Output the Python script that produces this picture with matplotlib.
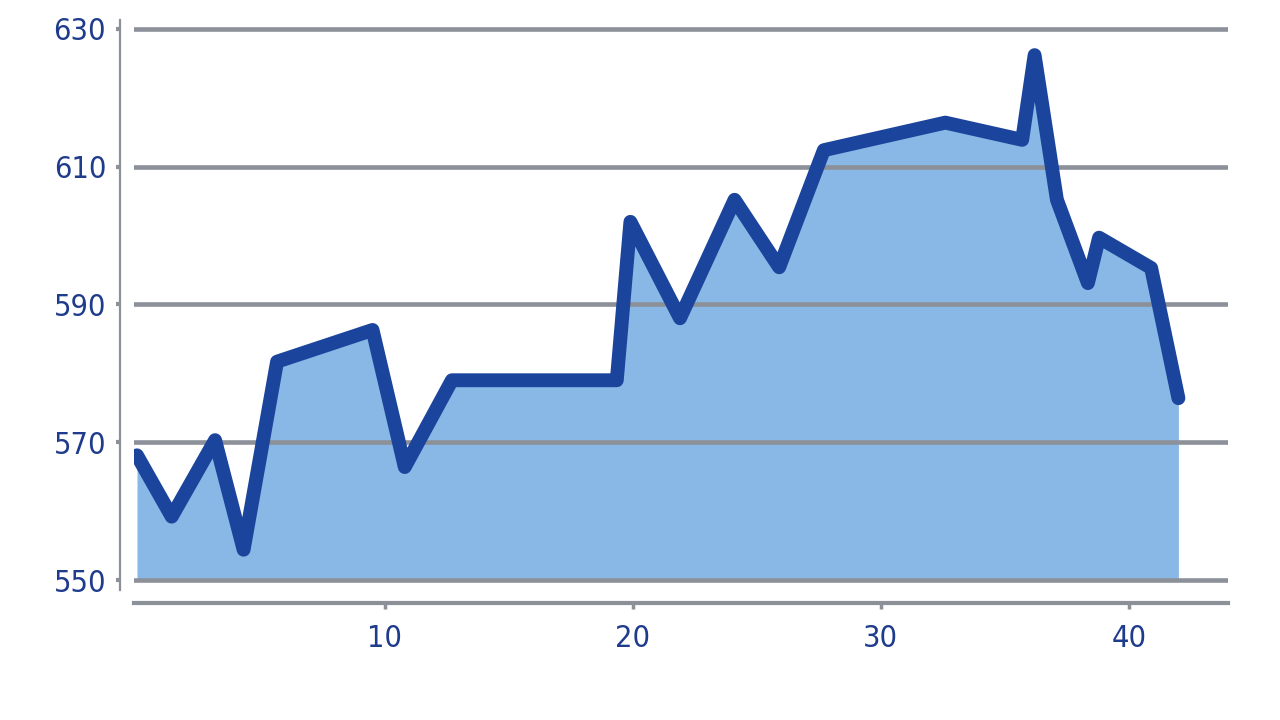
import matplotlib
matplotlib.use("Agg")
import matplotlib.pyplot as plt

# values
x_vals = [0, 1.4, 3.15, 4.3, 5.65, 9.5, 10.8, 12.7, 19.35, 19.9, 21.9,
          24.1, 25.9, 27.7, 32.6, 35.7, 36.2, 37.1, 38.35, 38.8, 40.9, 42.0]
y_vals = [568.1, 559.2, 570.3, 554.4, 581.7, 586.3, 566.4, 579.0, 579.0, 602.0, 588.0,
          605.2, 595.4, 612.4, 616.4, 613.9, 626.2, 605.2, 593.1, 599.7, 595.3, 576.4]
y_ticks = [550, 570, 590, 610, 630]
x_ticks = [10, 20, 30, 40]
baseline = 550

line_color = "#1b449c"
fill_color = "#8ab8e6"
grid_color = "#8c9099"
text_color = "#1f3c8c"

fig = plt.figure(figsize=(12.8, 7.2), dpi=100)
ax = fig.add_axes([134 / 1280, 1 - 590 / 720, (1228 - 134) / 1280, 570 / 720])

# area first, grid lines over it, the thick line on top
ax.fill_between(x_vals, y_vals, baseline, color=fill_color, linewidth=0, zorder=1)
for yt in y_ticks:
    ax.axhline(yt, color=grid_color, linewidth=3.3, zorder=2)
ax.plot(x_vals, y_vals, color=line_color, linewidth=10,
        solid_joinstyle="round", solid_capstyle="round", zorder=3)

ax.set_xlim(-0.12, 44.0)
ax.set_ylim(548.55, 631.3)
ax.set_xticks(x_ticks)
ax.set_yticks(y_ticks)

ax.spines["top"].set_visible(False)
ax.spines["right"].set_visible(False)
ax.spines["left"].set_position(("outward", 10))
ax.spines["bottom"].set_position(("outward", 9.5))
ax.spines["left"].set_color(grid_color)
ax.spines["left"].set_linewidth(1.6)
ax.spines["bottom"].set_color(grid_color)
ax.spines["bottom"].set_linewidth(3)

ax.tick_params(axis="y", colors=grid_color, length=3, width=3, pad=7,
               labelcolor=text_color, labelsize=22)
ax.tick_params(axis="x", colors=grid_color, length=4, width=2.5, pad=11,
               labelcolor=text_color, labelsize=22)
for lbl in ax.get_xticklabels() + ax.get_yticklabels():
    lbl.set_family("DejaVu Sans")
    lbl.set_stretch("condensed")

fig.savefig("out.png", dpi=100)
